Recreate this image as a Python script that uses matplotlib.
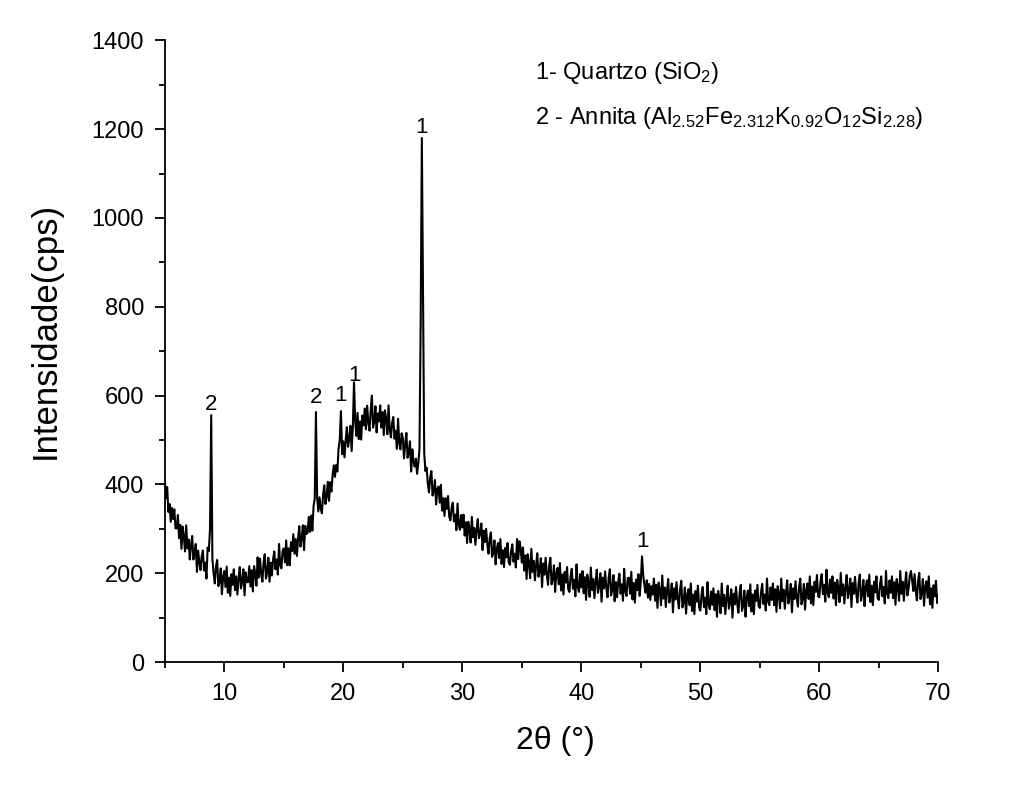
import numpy as np
import matplotlib
matplotlib.use("Agg")
import matplotlib.pyplot as plt
from matplotlib.ticker import MultipleLocator

plt.rcParams["font.family"] = ["Liberation Sans", "DejaVu Sans"]
plt.rcParams["mathtext.fontset"] = "custom"
plt.rcParams["mathtext.rm"] = "Liberation Sans"
plt.rcParams["mathtext.it"] = "Liberation Sans:italic"
plt.rcParams["mathtext.default"] = "regular"

# Diffractogram: 2-theta from 5 to 70 deg, step 0.1 deg
theta_start, theta_end, theta_step = 5.0, 70.0, 0.1

counts_05_20 = [
    412, 369, 394, 338, 356, 316, 347, 322, 344, 301,
    301, 331, 279, 309, 255, 305, 283, 249, 308, 256,
    276, 231, 262, 284, 231, 242, 266, 203, 251, 225,
    207, 238, 251, 206, 224, 188, 258, 250, 300, 556,
    232, 200, 177, 215, 230, 171, 181, 211, 153, 193,
    205, 169, 215, 156, 190, 149, 198, 174, 209, 162,
    193, 152, 188, 214, 166, 181, 209, 150, 202, 180,
    180, 216, 170, 207, 159, 216, 200, 172, 236, 190,
    233, 199, 181, 224, 243, 188, 202, 235, 181, 224,
    195, 231, 249, 209, 231, 197, 266, 218, 211, 251,
    256, 224, 274, 218, 256, 218, 270, 250, 288, 244,
    277, 239, 277, 306, 260, 277, 308, 252, 307, 288,
    292, 327, 293, 330, 296, 351, 368, 563, 372, 339,
    371, 346, 335, 376, 398, 356, 372, 406, 363, 405,
    384, 421, 443, 417, 444, 429, 480, 500, 565, 468,
]
counts_20_35 = [
    497, 461, 499, 529, 485, 502, 532, 475, 529, 630,
    542, 509, 561, 502, 542, 501, 555, 533, 571, 524,
    577, 541, 521, 566, 600, 528, 541, 576, 517, 560,
    542, 578, 528, 563, 511, 567, 547, 513, 578, 524,
    506, 538, 552, 503, 521, 480, 548, 493, 479, 515,
    505, 459, 491, 516, 460, 472, 497, 429, 479, 451,
    440, 458, 424, 447, 480, 760, 1180, 840, 470, 430,
    438, 403, 382, 416, 430, 375, 384, 410, 355, 390,
    395, 359, 399, 341, 369, 329, 369, 345, 374, 327,
    319, 347, 359, 317, 332, 297, 357, 309, 298, 331,
    303, 332, 285, 315, 268, 316, 299, 269, 327, 281,
    302, 264, 298, 322, 279, 290, 312, 252, 296, 270,
    300, 265, 244, 278, 292, 237, 247, 274, 220, 256,
    268, 234, 277, 221, 252, 214, 257, 236, 268, 224,
    219, 250, 265, 226, 244, 213, 277, 232, 272, 257,
]
counts_35_50 = [
    224, 258, 206, 240, 187, 243, 223, 189, 255, 203,
    228, 184, 218, 245, 192, 206, 234, 169, 222, 197,
    235, 197, 174, 217, 235, 175, 186, 218, 158, 200,
    212, 175, 223, 161, 197, 152, 203, 179, 214, 164,
    158, 193, 210, 165, 185, 148, 220, 168, 158, 198,
    168, 205, 155, 191, 140, 197, 179, 147, 213, 162,
    187, 144, 180, 208, 156, 171, 200, 136, 190, 166,
    204, 167, 146, 190, 209, 150, 162, 196, 137, 180,
    146, 181, 199, 154, 175, 138, 210, 159, 149, 189,
    190, 154, 203, 141, 178, 134, 186, 162, 198, 149,
    182, 238, 196, 174, 156, 184, 145, 176, 140, 171,
    152, 188, 138, 174, 122, 179, 161, 128, 195, 143,
    168, 124, 160, 187, 134, 149, 177, 112, 166, 141,
    180, 142, 121, 164, 183, 123, 135, 168, 109, 151,
    164, 128, 177, 115, 152, 108, 160, 136, 172, 123,
]
counts_50_70 = [
    116, 151, 169, 124, 145, 108, 180, 129, 119, 159,
    129, 166, 117, 153, 102, 160, 142, 110, 177, 126,
    151, 108, 144, 172, 120, 135, 164, 100, 154, 130,
    169, 132, 111, 155, 174, 115, 127, 161, 102, 145,
    161, 126, 175, 114, 152, 108, 161, 138, 174, 126,
    122, 157, 176, 131, 152, 116, 188, 137, 128, 168,
    140, 177, 128, 164, 113, 171, 153, 121, 188, 137,
    163, 120, 156, 184, 132, 147, 176, 112, 166, 142,
    182, 145, 125, 169, 188, 130, 142, 176, 118, 161,
    177, 142, 193, 132, 170, 128, 181, 158, 196, 148,
    146, 181, 198, 153, 174, 136, 208, 157, 146, 186,
    156, 193, 143, 179, 128, 185, 167, 135, 201, 150,
    175, 132, 168, 196, 144, 159, 188, 124, 178, 154,
    192, 155, 134, 178, 197, 138, 151, 185, 126, 169,
    184, 148, 197, 135, 172, 128, 181, 157, 193, 144,
    140, 175, 193, 148, 169, 132, 205, 154, 144, 184,
    156, 193, 144, 180, 129, 187, 170, 138, 205, 154,
    181, 138, 174, 202, 150, 165, 194, 205, 184, 160,
    198, 161, 139, 183, 201, 142, 153, 187, 127, 170,
    182, 145, 193, 130, 166, 122, 173, 148, 183, 133,
    150,
]

# Phase identification labels above the peaks
peak_labels = ["2", "2", "1", "1", "1", "1"]
peak_label_x = [8.9, 17.7, 19.8, 20.9, 26.6, 45.1]
peak_label_y = [581, 596, 601, 646, 1204, 272]

phase_legend = [
    r"1- Quartzo (SiO$_2$)",
    r"2 - Annita (Al$_{2.52}$Fe$_{2.312}$K$_{0.92}$O$_{12}$Si$_{2.28}$)",
]

counts = np.array(counts_05_20 + counts_20_35 + counts_35_50 + counts_50_70, dtype=float)
n_pts = int(round((theta_end - theta_start) / theta_step)) + 1
two_theta = np.linspace(theta_start, theta_end, n_pts)

fig = plt.figure(figsize=(10.30, 7.91), dpi=100)
ax = fig.add_axes([0.160, 0.163, 0.751, 0.786])

ax.plot(two_theta, counts, color="black", lw=1.5)

ax.set_xlim(5, 70)
ax.set_ylim(0, 1400)
ax.xaxis.set_major_locator(MultipleLocator(10))
ax.xaxis.set_minor_locator(MultipleLocator(5))
ax.yaxis.set_major_locator(MultipleLocator(200))
ax.yaxis.set_minor_locator(MultipleLocator(100))
ax.set_xticks([10, 20, 30, 40, 50, 60, 70])

for side in ("top", "right"):
    ax.spines[side].set_visible(False)
for side in ("left", "bottom"):
    ax.spines[side].set_linewidth(1.3)

ax.tick_params(which="major", direction="out", length=7, width=1.3,
               labelsize=17, pad=8, color="black")
ax.tick_params(which="minor", direction="out", length=4.5, width=1.3, color="black")

ax.set_xlabel("2θ (°)", fontsize=23)
ax.set_ylabel("Intensidade(cps)", fontsize=25)
ax.xaxis.set_label_coords(0.505, -0.103)
ax.yaxis.set_label_coords(-0.133, 0.534)

for lab, lx, ly in zip(peak_labels, peak_label_x, peak_label_y):
    ax.text(lx, ly, lab, ha="center", va="center", fontsize=16)

ax.text(36.1, 1326, phase_legend[0], ha="left", va="center", fontsize=17)
ax.text(36.1, 1226, phase_legend[1], ha="left", va="center", fontsize=17)

fig.savefig("out.png", dpi=100, facecolor="white")
